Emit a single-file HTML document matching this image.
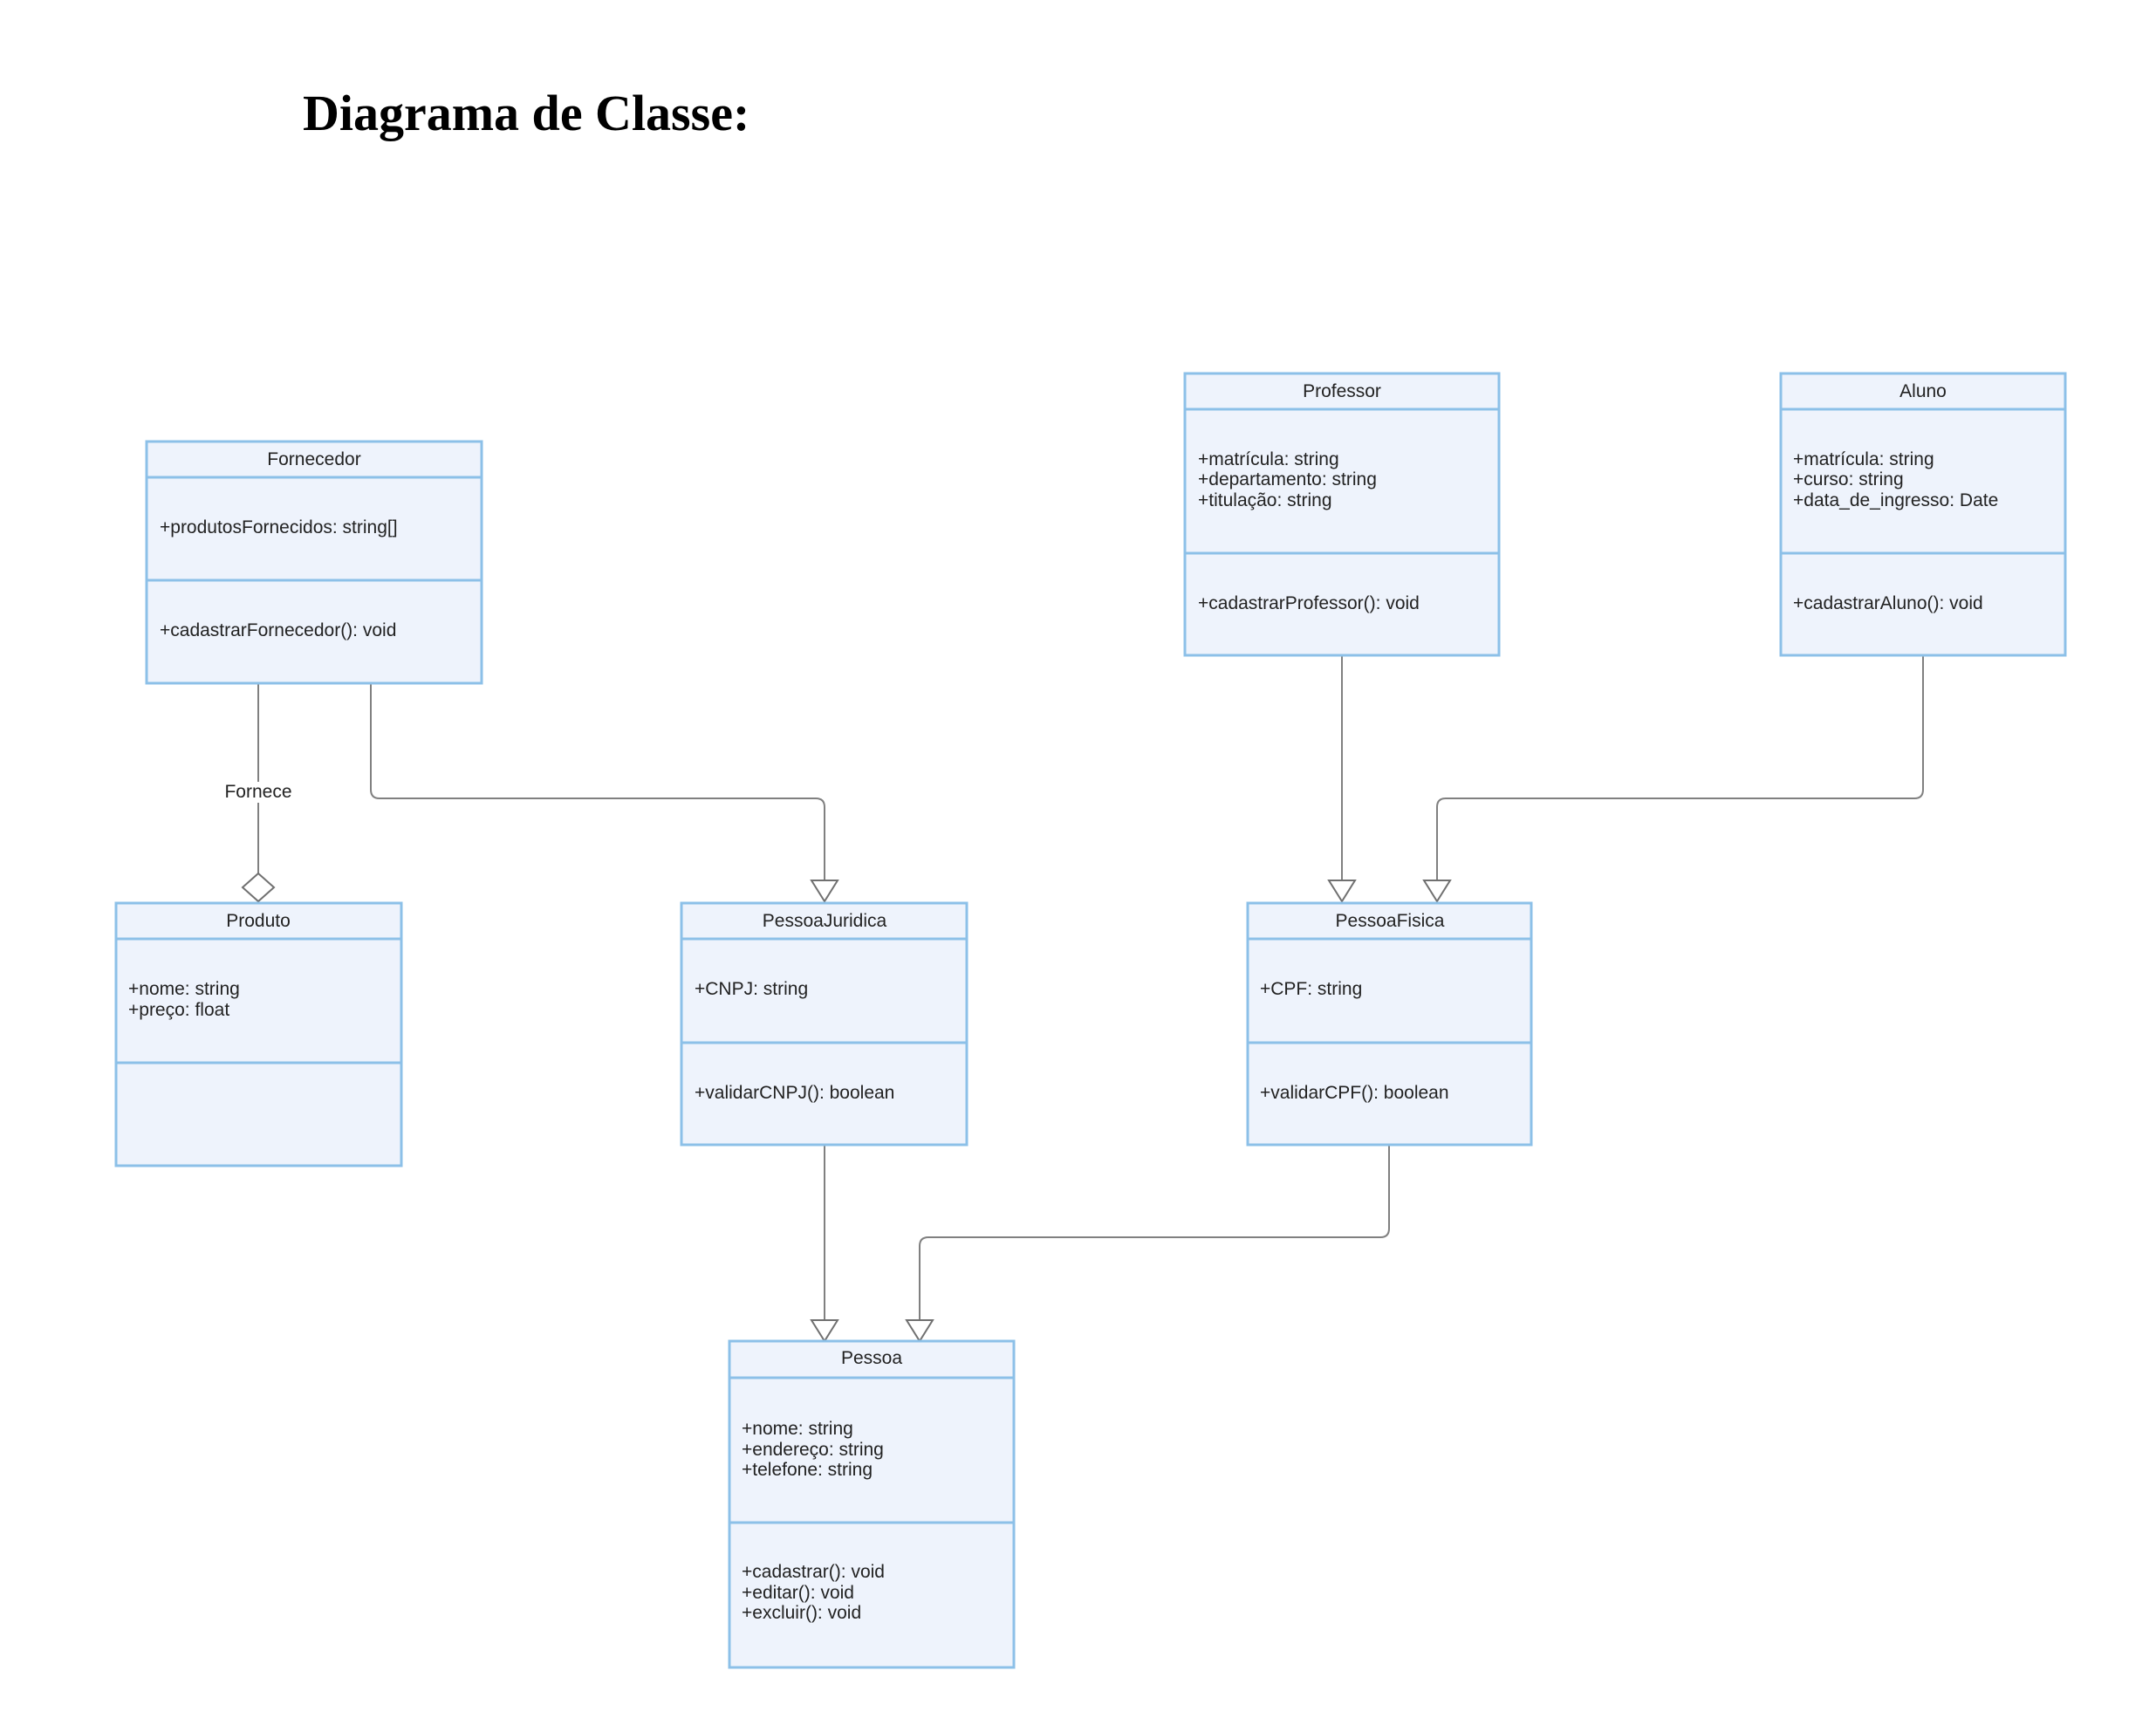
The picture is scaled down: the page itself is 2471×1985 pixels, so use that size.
<!DOCTYPE html>
<html><head><meta charset="utf-8"><style>
html,body{margin:0;padding:0;background:#fff;}
svg{display:block;}
.b{fill:#eef3fc;stroke:#8cc0e8;stroke-width:3;}
.d{stroke:#8cc0e8;stroke-width:3;}
.t{font-family:"Liberation Sans",Arial,sans-serif;font-size:21px;fill:#222;}
.c{stroke:#808080;stroke-width:2;fill:none;}
.a{stroke:#707070;stroke-width:2;fill:#fff;}
</style></head><body>
<svg width="2471" height="1985" viewBox="0 0 2471 1985" xmlns="http://www.w3.org/2000/svg">
<text x="347" y="149" font-family="'Liberation Serif','Times New Roman',serif" font-weight="bold" font-size="58" fill="#000">Diagrama de Classe:</text>

<path class="c" d="M296 783 V1001"/>
<rect x="258" y="896" width="78" height="24" fill="#fff"/>
<text class="t" x="296" y="914" text-anchor="middle">Fornece</text>
<path class="a" d="M296 1001 L314 1017 L296 1033 L278 1017 Z"/>
<path class="c" d="M425 783 V905 Q425 915 435 915 H935 Q945 915 945 925 V1009"/>
<path class="a" d="M930 1009 H960 L945 1033 Z"/>
<path class="c" d="M1538 751 V1009"/>
<path class="a" d="M1523 1009 H1553 L1538 1033 Z"/>
<path class="c" d="M2204 751 V905 Q2204 915 2194 915 H1657 Q1647 915 1647 925 V1009"/>
<path class="a" d="M1632 1009 H1662 L1647 1033 Z"/>
<path class="c" d="M945 1312 V1513"/>
<path class="a" d="M930 1513 H960 L945 1537 Z"/>
<path class="c" d="M1592 1312 V1408 Q1592 1418 1582 1418 H1064 Q1054 1418 1054 1428 V1513"/>
<path class="a" d="M1039 1513 H1069 L1054 1537 Z"/>

<rect class="b" x="168" y="506" width="384" height="277"/>
<line class="d" x1="168" y1="547" x2="552" y2="547"/>
<line class="d" x1="168" y1="665" x2="552" y2="665"/>
<text class="t" x="360" y="533" text-anchor="middle">Fornecedor</text>
<text class="t" x="183" y="611">+produtosFornecidos: string[]</text>
<text class="t" x="183" y="729">+cadastrarFornecedor(): void</text>

<rect class="b" x="133" y="1035" width="327" height="301"/>
<line class="d" x1="133" y1="1076" x2="460" y2="1076"/>
<line class="d" x1="133" y1="1218" x2="460" y2="1218"/>
<text class="t" x="296" y="1062" text-anchor="middle">Produto</text>
<text class="t" x="147" y="1140">+nome: string</text>
<text class="t" x="147" y="1164">+preço: float</text>

<rect class="b" x="781" y="1035" width="327" height="277"/>
<line class="d" x1="781" y1="1076" x2="1108" y2="1076"/>
<line class="d" x1="781" y1="1195" x2="1108" y2="1195"/>
<text class="t" x="945" y="1062" text-anchor="middle">PessoaJuridica</text>
<text class="t" x="796" y="1140">+CNPJ: string</text>
<text class="t" x="796" y="1259">+validarCNPJ(): boolean</text>

<rect class="b" x="1358" y="428" width="360" height="323"/>
<line class="d" x1="1358" y1="469" x2="1718" y2="469"/>
<line class="d" x1="1358" y1="634" x2="1718" y2="634"/>
<text class="t" x="1538" y="455" text-anchor="middle">Professor</text>
<text class="t" x="1373" y="533">+matrícula: string</text>
<text class="t" x="1373" y="556">+departamento: string</text>
<text class="t" x="1373" y="580">+titulação: string</text>
<text class="t" x="1373" y="698">+cadastrarProfessor(): void</text>

<rect class="b" x="2041" y="428" width="326" height="323"/>
<line class="d" x1="2041" y1="469" x2="2367" y2="469"/>
<line class="d" x1="2041" y1="634" x2="2367" y2="634"/>
<text class="t" x="2204" y="455" text-anchor="middle">Aluno</text>
<text class="t" x="2055" y="533">+matrícula: string</text>
<text class="t" x="2055" y="556">+curso: string</text>
<text class="t" x="2055" y="580">+data_de_ingresso: Date</text>
<text class="t" x="2055" y="698">+cadastrarAluno(): void</text>

<rect class="b" x="1430" y="1035" width="325" height="277"/>
<line class="d" x1="1430" y1="1076" x2="1755" y2="1076"/>
<line class="d" x1="1430" y1="1195" x2="1755" y2="1195"/>
<text class="t" x="1593" y="1062" text-anchor="middle">PessoaFisica</text>
<text class="t" x="1444" y="1140">+CPF: string</text>
<text class="t" x="1444" y="1259">+validarCPF(): boolean</text>

<rect class="b" x="836" y="1537" width="326" height="374"/>
<line class="d" x1="836" y1="1579" x2="1162" y2="1579"/>
<line class="d" x1="836" y1="1745" x2="1162" y2="1745"/>
<text class="t" x="999" y="1563" text-anchor="middle">Pessoa</text>
<text class="t" x="850" y="1644">+nome: string</text>
<text class="t" x="850" y="1668">+endereço: string</text>
<text class="t" x="850" y="1691">+telefone: string</text>
<text class="t" x="850" y="1808">+cadastrar(): void</text>
<text class="t" x="850" y="1832">+editar(): void</text>
<text class="t" x="850" y="1855">+excluir(): void</text>
</svg>
</body></html>
